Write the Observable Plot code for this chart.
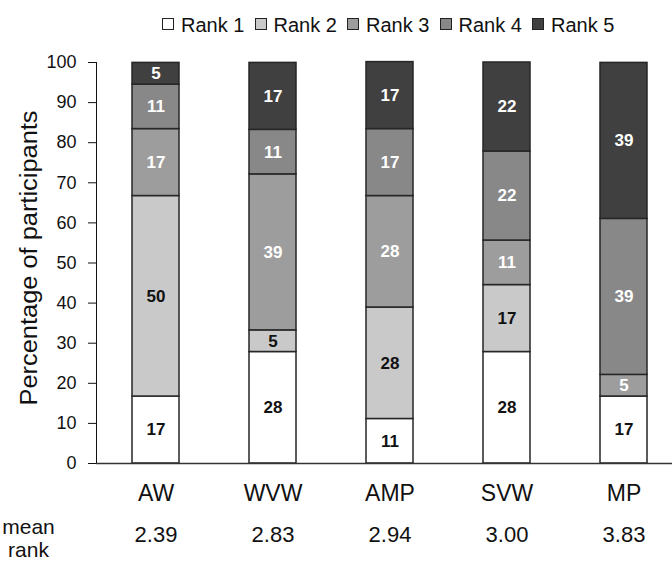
<!DOCTYPE html>
<html>
<head>
<meta charset="utf-8">
<script src="https://cdn.jsdelivr.net/npm/d3@7"></script>
<script src="https://cdn.jsdelivr.net/npm/@observablehq/plot@0.6"></script>
<style>
  body { margin: 0; background: white; }
  #wrap { width: 672px; font-family: "Liberation Sans", Arial, sans-serif; }
  #legend { position: relative; width: 672px; height: 45px; }
  .sw { position: absolute; top: 18px; width: 12px; height: 12px; box-sizing: border-box; border: 1.4px solid #222; }
  .lb { position: absolute; top: 14px; font-size: 20px; line-height: 22px; color: #111; white-space: nowrap; }
</style>
</head>
<body>
<div id="wrap">
  <div id="legend"></div>
  <div id="chart"></div>
</div>
<script>
const categories = ["AW", "WVW", "AMP", "SVW", "MP"];
const ranks = ["Rank 1", "Rank 2", "Rank 3", "Rank 4", "Rank 5"];
const rank1 = [16.7, 27.8, 11.1, 27.8, 16.7];
const rank2 = [50.0, 5.4, 27.8, 16.7, 0];
const rank3 = [16.7, 38.9, 27.8, 11.1, 5.4];
const rank4 = [11.1, 11.1, 16.7, 22.2, 38.9];
const rank5 = [5.4, 16.7, 16.7, 22.2, 38.9];
const meanRank = ["2.39", "2.83", "2.94", "3.00", "3.83"];
const yTicks = [0, 10, 20, 30, 40, 50, 60, 70, 80, 90, 100];
const palette = ["#ffffff", "#c9c9c9", "#9d9d9d", "#888888", "#404040"];
const darkTextRanks = ["Rank 1", "Rank 2"];

const series = [rank1, rank2, rank3, rank4, rank5];
const data = categories.flatMap((c, i) =>
  series.map((vals, j) => ({category: c, rank: ranks[j], value: vals[i]}))
);

// Legend
const legend = document.getElementById("legend");
ranks.forEach((r, i) => {
  const left = 162 + i * 92.5;
  const sw = document.createElement("div");
  sw.className = "sw";
  sw.style.left = left + "px";
  sw.style.background = palette[i];
  legend.appendChild(sw);
  const lb = document.createElement("div");
  lb.className = "lb";
  lb.style.left = (left + 19) + "px";
  lb.textContent = r;
  legend.appendChild(lb);
});

const stackOpts = {x: "category", y: "value", z: "rank", order: null};
const label = d => String(Math.round(d.value));

const chart = Plot.plot({
  width: 672,
  height: 525,
  marginTop: 17,
  marginBottom: 107,
  marginLeft: 96,
  marginRight: 0,
  style: {fontFamily: "Liberation Sans, Arial, sans-serif", fontSize: "18px", color: "#111", background: "white", overflow: "visible"},
  x: {domain: categories, range: [96, 683.5], paddingInner: 0.6, paddingOuter: 0.3, axis: null},
  y: {domain: [0, 100], ticks: yTicks, tickSize: 8, tickPadding: 12, line: true, label: null},
  color: {domain: ranks, range: palette},
  marks: [
    Plot.barY(data, Plot.stackY({...stackOpts, fill: "rank", stroke: "#262626", strokeWidth: 1.5})),
    Plot.text(data, Plot.stackY({...stackOpts,
      text: d => (darkTextRanks.includes(d.rank) && d.value > 0) ? label(d) : "",
      fill: "#111", fontWeight: "bold", fontSize: 17})),
    Plot.text(data, Plot.stackY({...stackOpts,
      text: d => (!darkTextRanks.includes(d.rank) && d.value > 0) ? label(d) : "",
      fill: "white", fontWeight: "bold", fontSize: 17})),
    Plot.ruleY([0], {stroke: "#333", strokeWidth: 1.5}),
    Plot.text(categories, {x: d => d, text: d => d, frameAnchor: "bottom", dy: 30, lineAnchor: "middle", fontSize: 23, fill: "#111"}),
    Plot.text(categories, {x: d => d, text: (d, i) => meanRank[i], frameAnchor: "bottom", dy: 71, lineAnchor: "middle", fontSize: 22, fill: "#111"}),
    Plot.text(["mean\nrank"], {frameAnchor: "bottom-left", dx: -68, dy: 75, lineAnchor: "middle", textAnchor: "middle", fontSize: 21, lineHeight: 1.1, fill: "#111"}),
    Plot.text(["Percentage of participants"], {frameAnchor: "left", dx: -67, dy: -5, rotate: -90, textAnchor: "middle", lineAnchor: "middle", fontSize: 23, fill: "#111"})
  ]
});
d3.select(chart).selectAll("text")
  .filter(function() { return this.textContent === "Percentage of participants"; })
  .attr("textLength", 295)
  .attr("lengthAdjust", "spacingAndGlyphs");
document.getElementById("chart").appendChild(chart);
</script>
</body>
</html>
